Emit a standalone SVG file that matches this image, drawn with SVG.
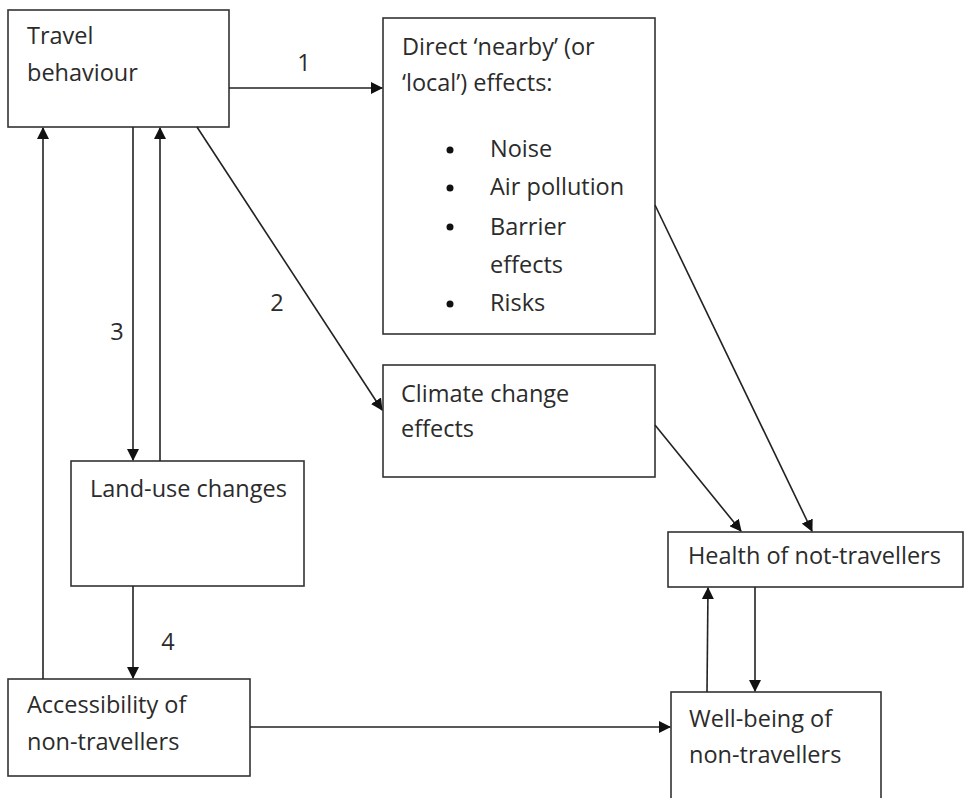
<svg xmlns="http://www.w3.org/2000/svg" width="964" height="798" viewBox="0 0 964 798">
<defs>
<style>
.box{fill:#fff;stroke:#333;stroke-width:1.6}
.t{font-family:"Open Sans","Noto Sans","Liberation Sans",sans-serif;font-size:23.5px;fill:#2b2b2b}
.c{fill:none;stroke:#222;stroke-width:1.6}
</style>
<marker id="ah" viewBox="0 0 12 12" refX="11" refY="6" markerWidth="12" markerHeight="12" markerUnits="userSpaceOnUse" orient="auto">
<path d="M0,0 L12,6 L0,12 Z" fill="#111"/>
</marker>
</defs>
<rect width="964" height="798" fill="#fff"/>
<g id="travel"><rect class="box" x="8" y="10" width="221" height="117"/><text class="t" x="27" y="44">Travel</text><text class="t" x="27" y="81">behaviour</text></g>
<g id="direct"><rect class="box" x="383" y="18" width="272" height="316"/>
<text class="t" x="402" y="55">Direct ‘nearby’ (or</text><text class="t" x="402" y="91">‘local’) effects:</text>
<circle cx="450" cy="150" r="3.5" fill="#111"/><text class="t" x="490" y="157">Noise</text>
<circle cx="450" cy="188" r="3.5" fill="#111"/><text class="t" x="490" y="195">Air pollution</text>
<circle cx="450" cy="227" r="3.5" fill="#111"/><text class="t" x="490" y="235">Barrier</text>
<text class="t" x="490" y="273">effects</text>
<circle cx="450" cy="304" r="3.5" fill="#111"/><text class="t" x="490" y="311">Risks</text></g>
<g id="climate"><rect class="box" x="383" y="365" width="272" height="112"/><text class="t" x="401" y="402">Climate change</text><text class="t" x="401" y="437">effects</text></g>
<g id="landuse"><rect class="box" x="71" y="461" width="233" height="125"/><text class="t" x="90" y="497">Land-use changes</text></g>
<g id="access"><rect class="box" x="8" y="679" width="242" height="97"/><text class="t" x="27" y="713">Accessibility of</text><text class="t" x="27" y="750">non-travellers</text></g>
<g id="health"><rect class="box" x="668" y="532" width="295" height="55"/><text class="t" x="688" y="564">Health of not-travellers</text></g>
<g id="wellbeing"><rect class="box" x="671" y="692" width="210" height="110"/><text class="t" x="689" y="727">Well-being of</text><text class="t" x="689" y="763">non-travellers</text></g>
<g id="connectors">
<line class="c" x1="229" y1="88" x2="382" y2="88" marker-end="url(#ah)"/>
<line class="c" x1="197" y1="127" x2="382" y2="410" marker-end="url(#ah)"/>
<line class="c" x1="133" y1="127" x2="133" y2="460" marker-end="url(#ah)"/>
<line class="c" x1="160" y1="461" x2="160" y2="128" marker-end="url(#ah)"/>
<line class="c" x1="43" y1="679" x2="43" y2="128" marker-end="url(#ah)"/>
<line class="c" x1="133" y1="586" x2="133" y2="678" marker-end="url(#ah)"/>
<line class="c" x1="250" y1="727" x2="670" y2="727" marker-end="url(#ah)"/>
<line class="c" x1="655" y1="205" x2="812" y2="531" marker-end="url(#ah)"/>
<line class="c" x1="655" y1="425" x2="741" y2="531" marker-end="url(#ah)"/>
<line class="c" x1="755" y1="587" x2="755" y2="691" marker-end="url(#ah)"/>
<line class="c" x1="707" y1="692" x2="708" y2="588" marker-end="url(#ah)"/>
<text class="t" x="304" y="71" text-anchor="middle">1</text>
<text class="t" x="277" y="311" text-anchor="middle">2</text>
<text class="t" x="117" y="340" text-anchor="middle">3</text>
<text class="t" x="168" y="650" text-anchor="middle">4</text>
</g>
</svg>
